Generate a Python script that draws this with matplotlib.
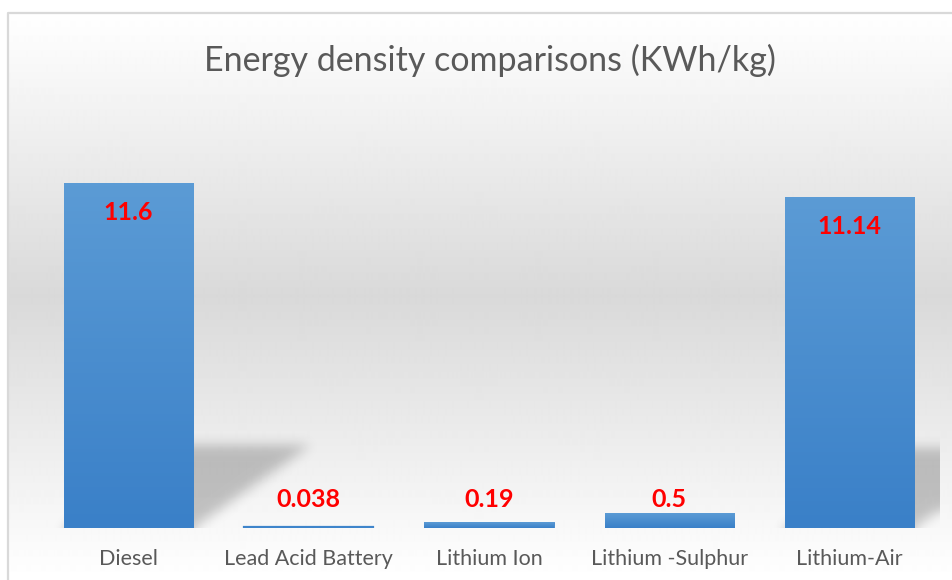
import numpy as np
import matplotlib.pyplot as plt
from matplotlib.colors import LinearSegmentedColormap

# --- data ---
categories = ["Diesel", "Lead Acid Battery", "Lithium Ion", "Lithium -Sulphur", "Lithium-Air"]
values = [11.6, 0.038, 0.19, 0.5, 11.14]
value_labels = ["11.6", "0.038", "0.19", "0.5", "11.14"]
title = "Energy density comparisons (KWh/kg)"

W, H = 953, 580
FONT = "Lato"
GREY_TXT = "#595959"

fig = plt.figure(figsize=(W / 100, H / 100), dpi=100)

# --- chart-area background: vertical gradient, white at edges, grey in the middle ---
bg = fig.add_axes([0, 0, 1, 1], zorder=0)
bg.set_xlim(0, W)
bg.set_ylim(H, 0)
bg.axis("off")
rows = np.arange(13, H)
t = np.clip(np.abs(rows - 296) / 283, 0, 1)
shade = (217 + (255 - 217) * t) / 255
bg.imshow(np.repeat(shade[:, None], 2, axis=1), cmap="gray", vmin=0, vmax=1,
          extent=(8, W, H, 13), aspect="auto", interpolation="bilinear")
bg.plot([8, 8, W], [H, 13, 13], color="#d9d9d9", lw=1.6)

# --- main axes ---
ax = fig.add_axes([38.5 / W, 52 / H, 901 / W, 386.6 / H], zorder=1)
ax.patch.set_alpha(0)
x = np.arange(len(categories))
width = 0.717
XL, YL = (-0.5, 4.5), (0, 13)

# perspective shadows (skewed, squashed copy of each bar, blurred)
nx, ny = 901, 387
gx = np.linspace(XL[0], XL[1], nx)
gy = np.linspace(YL[0], YL[1], ny)
GX, GY = np.meshgrid(gx, gy)
mask = np.zeros_like(GX)
skew, squash = 0.65, 0.24
for xi, v in zip(x, values):
    if v < 1:
        continue  # shadow of the flat bars is invisible
    h = v * squash
    off = skew * GY / h
    inside = (GY <= h) & (GX >= xi - width / 2 + off) & (GX <= xi + width / 2 + off)
    mask[inside] = 1.0

def blur(a, sigma):
    r = int(3 * sigma)
    k = np.exp(-0.5 * (np.arange(-r, r + 1) / sigma) ** 2)
    k /= k.sum()
    p = np.pad(a, r, mode="edge")
    p = np.apply_along_axis(lambda m: np.convolve(m, k, mode="same"), 0, p)
    p = np.apply_along_axis(lambda m: np.convolve(m, k, mode="same"), 1, p)
    return p[r:-r, r:-r]

mask = blur(mask, 6)
shadow = np.zeros((ny, nx, 4))
shadow[..., 3] = 0.22 * mask
ax.imshow(shadow, extent=(XL[0], XL[1], YL[0], YL[1]), origin="lower",
          aspect="auto", zorder=1, interpolation="bilinear")

# bars with a light-top / dark-bottom gradient
bar_cmap = LinearSegmentedColormap.from_list("bar", ["#3A80C8", "#5B9BD5"])
edge_w = [1.6 if v < 0.1 else 0.6 for v in values]  # keep the near-zero bar visible
bars = ax.bar(x, values, width=width, color="#3F85CB", edgecolor="#3F85CB",
              linewidth=edge_w, zorder=2)
for b, xi, v in zip(bars, x, values):
    if v < 0.1:
        continue  # too thin for a visible gradient
    im = ax.imshow(np.linspace(0, 1, 100)[:, None], cmap=bar_cmap, origin="lower",
                   extent=(xi - width / 2, xi + width / 2, 0, v), aspect="auto", zorder=3)
    im.set_clip_path(b)

# value labels
for xi, v, lab in zip(x, values, value_labels):
    ax.text(xi, max(v - 1.0, 0.97), lab, ha="center", va="center", color="#FF0000",
            fontsize=18, fontweight="bold", family=FONT, zorder=4)

ax.set_xlim(*XL)
ax.set_ylim(*YL)
ax.set_xticks(x, categories)
ax.set_yticks([])
ax.tick_params(axis="x", length=0, pad=15, labelsize=15.5, labelcolor=GREY_TXT)
for lab in ax.get_xticklabels():
    lab.set_family(FONT)
for s in ax.spines.values():
    s.set_visible(False)

fig.text(490 / W, 1 - 60 / H, title, ha="center", va="center", fontsize=24.5,
         color=GREY_TXT, family=FONT)

fig.savefig("out.png", dpi=100)
